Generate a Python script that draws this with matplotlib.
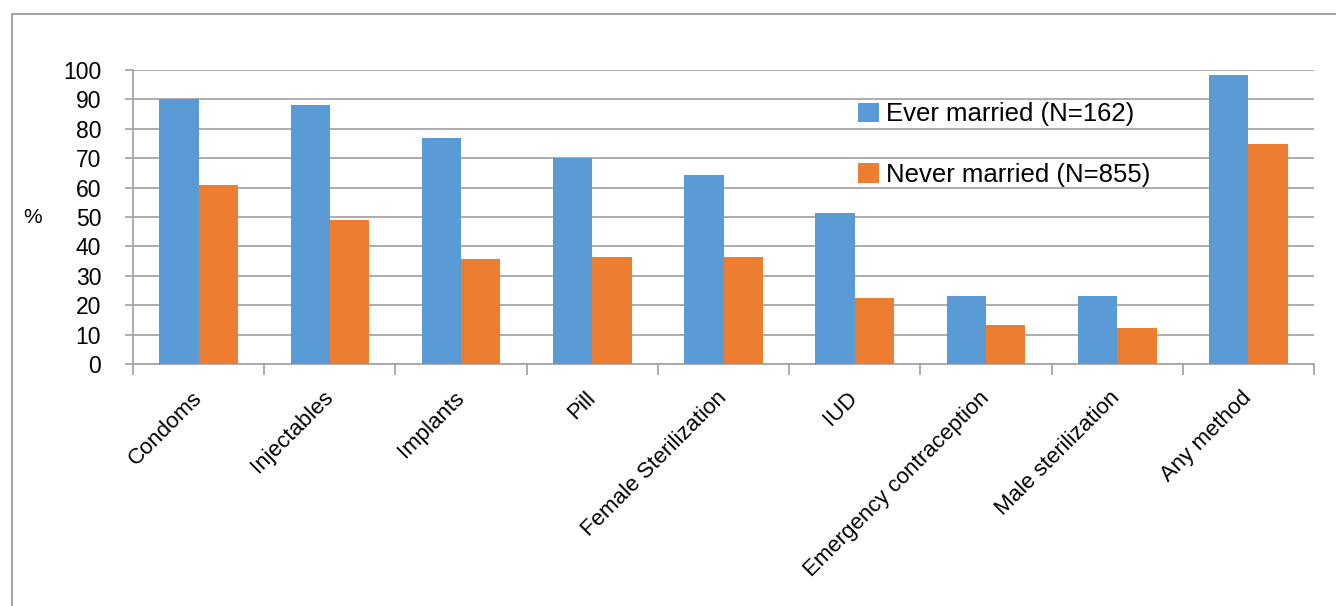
import numpy as np
import matplotlib
matplotlib.use("Agg")
from matplotlib import pyplot as plt
from matplotlib.patches import Rectangle

# dati
metodi = ["Condoms", "Injectables", "Implants", "Pill", "Female Sterilization",
          "IUD", "Emergency contraception", "Male sterilization", "Any method"]
ever_married = [90, 88, 77, 70, 64.3, 51.5, 23.2, 23.2, 98.3]
never_married = [60.8, 49, 35.7, 36.4, 36.4, 22.5, 13.3, 12.3, 74.8]
etichette = ["Ever married (N=162)", "Never married (N=855)"]

blu = "#5B9BD5"
arancio = "#ED7D31"
grigio = "#A6A6A6"

plt.rcParams['font.family'] = ['Liberation Sans', 'DejaVu Sans']

fig = plt.figure(figsize=(13.36, 6.06), dpi=100)
ax = fig.add_axes([0.0996, 0.3993, 0.8839, 0.4852])

# cornice esterna (solo sinistra e sopra visibili)
fig.patches.append(Rectangle((12 / 1336, -0.1), 1.2, 1 - 14 / 606 + 0.1,
                             transform=fig.transFigure, fill=False,
                             edgecolor=grigio, linewidth=1.5))

x = np.arange(len(metodi))
w = 0.3
ax.bar(x - w / 2, ever_married, w, color=blu, label=etichette[0], zorder=3)
ax.bar(x + w / 2, never_married, w, color=arancio, label=etichette[1], zorder=3)

ax.set_xlim(-0.5, len(metodi) - 0.5)
ax.set_ylim(0, 100)
ax.set_yticks(range(0, 101, 10))
ax.yaxis.grid(True, color=grigio, linewidth=1.3, zorder=0)
ax.tick_params(axis='y', length=6, width=1.3, color=grigio, pad=17, labelsize=16.5)

# tick tra le categorie, etichette al centro
ax.set_xticks(x)
ax.set_xticklabels(metodi, rotation=45, ha='right', va='center',
                   rotation_mode='anchor', fontsize=16)
ax.tick_params(axis='x', which='major', length=0, pad=22)
ax.set_xticks(np.arange(-0.5, len(metodi)), minor=True)
ax.tick_params(axis='x', which='minor', length=8, width=1.3, color=grigio)

for s in ['top', 'right']:
    ax.spines[s].set_visible(False)
for s in ['left', 'bottom']:
    ax.spines[s].set_color(grigio)
    ax.spines[s].set_linewidth(1.3)

ax.set_ylabel('%', rotation=0, fontsize=15, va='center')
ax.yaxis.set_label_coords(-0.085, 0.5)

ax.legend(loc='upper left', bbox_to_anchor=(0.614, 0.89), frameon=False,
          fontsize=18.5, handlelength=0.8, handleheight=0.8, handletextpad=0.3,
          labelspacing=1.42, borderpad=0, borderaxespad=0)

plt.savefig("out.png", dpi=100)
